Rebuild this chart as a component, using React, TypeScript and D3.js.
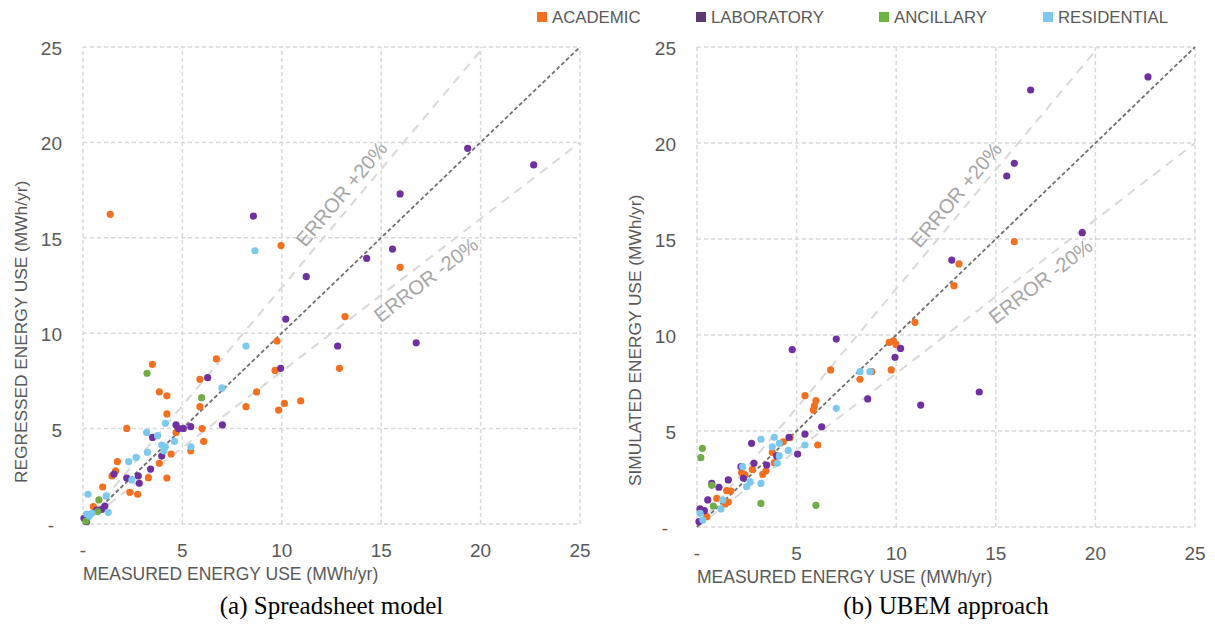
import React from 'react';
import * as d3 from 'd3';

// categories and colours
const categories = ['ACADEMIC', 'LABORATORY', 'ANCILLARY', 'RESIDENTIAL'];
const dotColors = ['#f37021', '#7030a0', '#70ad47', '#7cc8ee'];
const legendColors = ['#f37021', '#5c3a6e', '#6db33f', '#7cc8ee'];

const tickValues = [0, 5, 10, 15, 20, 25];
const tickLabels = ['-', '5', '10', '15', '20', '25'];

// (a) spreadsheet model: [measured, regressed]
const leftAcademic = [
  [9.76, 9.59], [3.49, 8.37], [6.71, 8.65], [9.66, 8.05], [5.88, 7.58], [3.84, 6.93], [4.22, 6.72],
  [8.73, 6.92], [8.2, 6.15], [5.88, 6.15], [9.84, 5.97], [10.13, 6.32], [10.95, 6.45], [4.22, 5.77],
  [4.68, 4.79], [5.99, 5.0], [2.2, 5.01], [6.07, 4.33], [5.42, 3.84], [4.43, 3.67], [1.73, 3.27],
  [3.84, 3.18], [1.64, 2.79], [1.46, 2.52], [3.29, 2.43], [4.22, 2.41], [0.99, 1.94], [2.36, 1.66],
  [2.75, 1.56], [0.52, 0.91], [1.37, 16.23], [9.96, 14.59], [15.95, 13.45], [13.18, 10.87], [12.9, 8.16],
];
const leftLaboratory = [
  [10.2, 10.74], [9.94, 8.16], [6.27, 7.67], [4.68, 5.19], [5.05, 5.01], [5.42, 5.1], [4.8, 5.0],
  [7.01, 5.19], [3.5, 4.54], [3.96, 3.56], [3.4, 2.88], [1.56, 2.62], [2.2, 2.41], [2.78, 2.52],
  [2.83, 2.13], [1.1, 0.94], [0.94, 0.77], [0.69, 0.73], [0.05, 0.3], [0.18, 0.12], [8.57, 16.14],
  [19.35, 19.69], [22.67, 18.82], [15.95, 17.3], [11.23, 12.96], [14.27, 13.92], [15.57, 14.41],
  [12.81, 9.33], [16.76, 9.5],
];
const leftAncillary = [[3.22, 7.9], [5.97, 6.62], [0.8, 1.26], [0.74, 0.65], [0.15, 0.15]];
const leftResidential = [
  [8.2, 9.33], [6.99, 7.13], [4.14, 5.28], [3.2, 4.8], [3.75, 4.63], [4.6, 4.33], [3.96, 4.14],
  [4.14, 4.05], [5.43, 4.05], [4.07, 3.84], [3.24, 3.75], [2.67, 3.49], [2.3, 3.27], [2.46, 2.31],
  [0.25, 1.56], [1.17, 1.47], [1.27, 0.61], [0.18, 0.52], [0.44, 0.56], [0.32, 0.42], [8.65, 14.32],
];

// (b) UBEM approach: [measured, simulated]
const rightAcademic = [
  [10.94, 10.66], [9.65, 9.62], [9.86, 9.7], [9.99, 9.51], [9.75, 8.18], [15.93, 14.86], [13.15, 13.7],
  [12.9, 12.57], [6.71, 8.18], [8.77, 8.09], [8.18, 7.69], [5.42, 6.84], [5.97, 6.58], [5.89, 6.3],
  [5.84, 6.09], [6.06, 4.27], [4.67, 4.65], [4.33, 4.44], [3.78, 3.89], [3.88, 3.35], [3.46, 2.93],
  [3.3, 2.74], [2.24, 2.83], [2.41, 2.71], [2.78, 3.0], [1.49, 1.89], [1.69, 1.87], [0.99, 1.49],
  [1.57, 1.3], [1.41, 1.2], [0.49, 0.54],
];
const rightLaboratory = [
  [22.64, 23.44], [16.75, 22.76], [15.93, 18.94], [15.55, 18.28], [19.34, 15.33], [12.79, 13.9],
  [10.22, 9.3], [9.94, 8.84], [14.17, 7.03], [11.23, 6.35], [6.99, 9.79], [4.78, 9.24], [8.57, 6.67],
  [6.26, 5.22], [5.42, 4.84], [5.05, 3.8], [4.62, 4.67], [2.74, 4.36], [4.0, 3.7], [3.5, 3.23],
  [2.86, 3.32], [2.21, 3.14], [2.33, 2.54], [1.57, 2.45], [1.1, 2.07], [0.74, 2.27], [0.54, 1.41],
  [0.15, 0.94], [0.37, 0.85], [0.1, 0.28],
];
const rightAncillary = [[3.21, 1.23], [5.97, 1.13], [0.74, 2.17], [0.82, 1.09], [0.27, 4.1], [0.19, 3.61]];
const rightResidential = [
  [8.18, 8.09], [8.68, 8.09], [6.99, 6.18], [5.42, 4.27], [4.58, 3.99], [4.13, 4.36], [3.88, 4.67],
  [3.78, 4.18], [3.21, 4.57], [4.13, 3.7], [4.03, 3.32], [3.21, 2.27], [2.29, 3.14], [2.66, 2.36],
  [2.49, 2.1], [1.29, 1.41], [1.2, 0.94], [0.15, 0.71], [0.29, 0.36],
];

const upperSlope = 1.24;
const lowerSlope = 0.8;

const sans = '"Liberation Sans", Arial, sans-serif';
const grey = '#595959';

const Panel = ({ series, x0, x1, y0, y1, yTitle, caption }) => {
  const x = d3.scaleLinear().domain([0, 25]).range([x0, x1]);
  const y = d3.scaleLinear().domain([0, 25]).range([y0, y1]);
  const line = d3.line().x(d => x(d[0])).y(d => y(d[1]));

  const angle = (k) => -Math.atan((k * (y(0) - y(1))) / (x(1) - x(0))) * 180 / Math.PI;

  return (
    <g>
      {tickValues.map(t => (
        <g key={'g' + t}>
          <line x1={x(t)} x2={x(t)} y1={y(0)} y2={y(25)} stroke="#d9d9d9" strokeWidth={1.5} strokeDasharray="4 3" />
          <line x1={x(0)} x2={x(25)} y1={y(t)} y2={y(t)} stroke="#d9d9d9" strokeWidth={1.5} strokeDasharray="4 3" />
        </g>
      ))}
      <path d={line([[0, 0], [25 / upperSlope, 25]])} stroke="#d9d9d9" strokeWidth={2} strokeDasharray="9 7" fill="none" />
      <path d={line([[0, 0], [25, 25 * lowerSlope]])} stroke="#d9d9d9" strokeWidth={2} strokeDasharray="9 7" fill="none" />
      <path d={line([[0, 0], [25, 25]])} stroke="#6f6f6f" strokeWidth={1.8} strokeDasharray="4 2.5" fill="none" />

      <text transform={`translate(${x(13)},${y(17.3)}) rotate(${angle(upperSlope)})`} textAnchor="middle"
        dominantBaseline="central" fontFamily={sans} fontSize={20} fill="#a6a6a6">ERROR +20%</text>
      <text transform={`translate(${x(17.25)},${y(12.8)}) rotate(${angle(lowerSlope)})`} textAnchor="middle"
        dominantBaseline="central" fontFamily={sans} fontSize={20} fill="#a6a6a6">ERROR -20%</text>

      {series.map((pts, si) => (
        <g key={'s' + si}>
          {pts.map((p, i) => (
            <circle key={i} cx={x(p[0])} cy={y(p[1])} r={3.6} fill={dotColors[si]} />
          ))}
        </g>
      ))}

      {tickValues.map((t, i) => (
        <text key={'xt' + t} x={x(t)} y={y(0) + 33} textAnchor="middle" fontFamily={sans} fontSize={19} fill={grey}>
          {tickLabels[i]}
        </text>
      ))}
      {tickValues.map((t, i) => (
        <text key={'yt' + t} x={x(0) - 21 - (i === 0 ? 8 : 0)} y={y(t) + 8} textAnchor="end" fontFamily={sans} fontSize={19} fill={grey}>
          {tickLabels[i]}
        </text>
      ))}

      <text x={x(0)} y={y(0) + 56} fontFamily={sans} fontSize={17.5} fill={grey}>MEASURED ENERGY USE (MWh/yr)</text>
      <text transform={`translate(${x(0) - 56},${y(0) - 41}) rotate(-90)`} fontFamily={sans} fontSize={17.3} fill={grey}>
        {yTitle}
      </text>
      <text x={(x(0) + x(25)) / 2} y={614} textAnchor="middle" fontFamily='"Liberation Serif", "DejaVu Serif", serif' fontSize={25} fill="#000">
        {caption}
      </text>
    </g>
  );
};

const legendX = [537, 696, 879, 1043];

export default function App() {
  return (
    <svg width={1215} height={624} style={{ position: 'absolute', left: 0, top: 0, background: '#fff' }}>
      <rect width={1215} height={624} fill="#fff" />
      {categories.map((c, i) => (
        <g key={c}>
          <rect x={legendX[i]} y={12} width={10} height={10} fill={legendColors[i]} />
          <text x={legendX[i] + 15} y={23} fontFamily={sans} fontSize={16.8} fill={grey}>{c}</text>
        </g>
      ))}
      <Panel
        series={[leftAcademic, leftLaboratory, leftAncillary, leftResidential]}
        x0={83} x1={580} y0={524} y1={47}
        yTitle="REGRESSED ENERGY USE (MWh/yr)"
        caption="(a) Spreadsheet model"
      />
      <Panel
        series={[rightAcademic, rightLaboratory, rightAncillary, rightResidential]}
        x0={697} x1={1195} y0={527} y1={47}
        yTitle="SIMULATED ENERGY USE (MWh/yr)"
        caption="(b) UBEM approach"
      />
    </svg>
  );
}
